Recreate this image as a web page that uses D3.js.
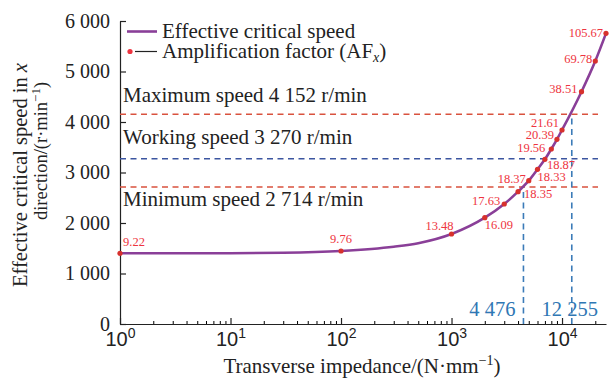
<!DOCTYPE html>
<html>
<head>
<meta charset="utf-8">
<script src="https://cdn.jsdelivr.net/npm/d3@7"></script>
<style>
  body { margin: 0; background: #fff; }
  svg { font-family: "Liberation Serif", "DejaVu Serif", serif; }
</style>
</head>
<body>
<div id="chart"></div>
<script>
const width = 615, height = 381;

// transverse impedance (N/mm) at each marked point
const impedance = [1, 100, 1000, 2000, 3000, 4000, 5000, 6000, 7000, 8000, 9000, 10000, 15000, 20000, 25000];
// effective critical speed (r/min) at those points
const speed = [1400, 1446, 1782, 2105, 2376, 2620, 2838, 3063, 3261, 3465, 3657, 3842, 4600, 5208, 5756];
// amplification factor labels
const afLabels = ["9.22", "9.76", "13.48", "16.09", "17.63", "18.35", "18.37", "18.33", "18.87", "19.56", "20.39", "21.61", "38.51", "69.78", "105.67"];
// extra curve points read between the markers
const curveX = [10, 30, 300, 500];
const curveY = [1402, 1410, 1530, 1600];

const limitNames = ["Maximum speed 4 152 r/min", "Working speed 3 270 r/min", "Minimum speed 2 714 r/min"];
const limitSpeeds = [4152, 3270, 2714];
const crossImpedance = [4476, 12255];
const crossSpeed = [2714, 4152];
const crossLabels = ["4 476", "12 255"];

const yTicks = [0, 1000, 2000, 3000, 4000, 5000, 6000];
const xMajor = [1, 10, 100, 1000, 10000];

const x = d3.scaleLog().domain([1, 25000]).range([120, 606]);
const y = d3.scaleLinear().domain([0, 6000]).range([324, 21]);

const svg = d3.select("#chart").append("svg")
    .attr("width", width)
    .attr("height", height);

// minor x ticks
let xMinor = [];
for (let d = 1; d <= 10000; d *= 10) {
    for (let k = 2; k <= 9; k++) {
        if (d * k < 25000) xMinor.push(d * k);
    }
}

svg.append("g")
    .attr("transform", `translate(0, ${y(0)})`)
    .call(d3.axisBottom(x).tickValues(xMinor).tickSizeInner(-3).tickSizeOuter(0).tickFormat(""))
    .call(g => g.select(".domain").remove());

let xAxis = svg.append("g")
    .attr("transform", `translate(0, ${y(0)})`)
    .call(d3.axisBottom(x).tickValues(xMajor).tickSizeInner(-6).tickSizeOuter(0).tickFormat(""));
xAxis.selectAll("path, line").attr("stroke", "#222").attr("stroke-width", 1.2);
xAxis.selectAll(".tick").each(function(d) {
    let t = d3.select(this).append("text")
        .attr("y", 22)
        .attr("fill", "#222")
        .attr("text-anchor", "middle")
        .style("font-size", "20px");
    t.append("tspan").text("10");
    t.append("tspan").attr("dy", -8).style("font-size", "14px").text(Math.round(Math.log10(d)));
});

let yAxis = svg.append("g")
    .attr("transform", `translate(${x(1)}, 0)`)
    .call(d3.axisLeft(y).tickValues(yTicks).tickSizeInner(-6).tickSizeOuter(0).tickPadding(10)
        .tickFormat(d => d3.format(",")(d).replace(",", " ")));
yAxis.selectAll("path, line").attr("stroke", "#222").attr("stroke-width", 1.2);
yAxis.selectAll("text").attr("fill", "#222").style("font-size", "20px").style("font-family", "Liberation Serif");

// speed limit lines
const limitColors = ["#d9523e", "#3b55a0", "#d9523e"];
svg.append("g").selectAll("line")
    .data(limitSpeeds)
    .enter().append("line")
    .attr("x1", x(1))
    .attr("x2", 598)
    .attr("y1", d => y(d))
    .attr("y2", d => y(d))
    .attr("stroke", (d, i) => limitColors[i])
    .attr("stroke-width", 1.5)
    .attr("stroke-dasharray", "6,4.5");

const limitDy = [-12, -15, 19];
svg.append("g").selectAll("text")
    .data(limitNames)
    .enter().append("text")
    .attr("x", 123)
    .attr("y", (d, i) => y(limitSpeeds[i]) + limitDy[i])
    .attr("fill", "#222")
    .style("font-size", "21px")
    .text(d => d);

// crossing lines
svg.append("g").selectAll("line")
    .data(crossImpedance)
    .enter().append("line")
    .attr("x1", d => x(d))
    .attr("x2", d => x(d))
    .attr("y1", y(0))
    .attr("y2", (d, i) => y(crossSpeed[i]))
    .attr("stroke", "#3b7bb8")
    .attr("stroke-width", 1.6)
    .attr("stroke-dasharray", "6,4.5");

svg.append("g").selectAll("text")
    .data(crossLabels)
    .enter().append("text")
    .attr("x", (d, i) => i === 0 ? x(crossImpedance[i]) - 8 : x(crossImpedance[i]) - 2)
    .attr("y", 316)
    .attr("text-anchor", (d, i) => i === 0 ? "end" : "middle")
    .attr("fill", "#2f77b4")
    .style("font-size", "20.5px")
    .text(d => d);

// curve
let curvePts = impedance.map((d, i) => [d, speed[i]])
    .concat(curveX.map((d, i) => [d, curveY[i]]))
    .sort((a, b) => a[0] - b[0]);

let line = d3.line()
    .x(d => x(d[0]))
    .y(d => y(d[1]))
    .curve(d3.curveMonotoneX);

svg.append("path")
    .datum(curvePts)
    .attr("fill", "none")
    .attr("stroke", "#8a3f98")
    .attr("stroke-width", 2.6)
    .attr("d", line);

svg.append("g").selectAll("circle")
    .data(impedance)
    .enter().append("circle")
    .attr("cx", d => x(d))
    .attr("cy", (d, i) => y(speed[i]))
    .attr("r", 2.6)
    .attr("fill", "#d7312d");

// label offsets [dx, dy, anchor]
const labelPos = [
    [3, -7, "start"], [0, -8, "middle"], [2, -4, "end"], [0, 11, "start"],
    [-4, 1, "end"], [6, 6, "start"], [-3, 2, "end"], [0, 12, "start"],
    [2, 10, "start"], [-6, 3, "end"], [-3, 0, "end"], [-3, -3, "end"],
    [-4, 1, "end"], [-3, 2, "end"], [-3, 4, "end"]
];
svg.append("g").selectAll("text")
    .data(afLabels)
    .enter().append("text")
    .attr("x", (d, i) => x(impedance[i]) + labelPos[i][0])
    .attr("y", (d, i) => y(speed[i]) + labelPos[i][1])
    .attr("text-anchor", (d, i) => labelPos[i][2])
    .attr("fill", "#ee3440")
    .style("font-size", "12.5px")
    .text(d => d);

// legend
svg.append("line")
    .attr("x1", 127).attr("x2", 157)
    .attr("y1", 31.5).attr("y2", 31.5)
    .attr("stroke", "#8a3f98").attr("stroke-width", 2.6);
svg.append("circle")
    .attr("cx", 130).attr("cy", 51.5).attr("r", 2.6).attr("fill", "#ee3440");
svg.append("line")
    .attr("x1", 135).attr("x2", 157)
    .attr("y1", 51.5).attr("y2", 51.5)
    .attr("stroke", "#222").attr("stroke-width", 1.2);
svg.append("text")
    .attr("x", 162).attr("y", 38)
    .attr("fill", "#222").style("font-size", "21px")
    .text("Effective critical speed");
let leg2 = svg.append("text")
    .attr("x", 162).attr("y", 58)
    .attr("fill", "#222").style("font-size", "21px");
leg2.append("tspan").text("Amplification factor (AF");
leg2.append("tspan").attr("dy", 4).style("font-size", "14px").style("font-style", "italic").text("x");
leg2.append("tspan").attr("dy", -4).text(")");

// axis titles
let xt = svg.append("text")
    .attr("x", 362).attr("y", 373)
    .attr("text-anchor", "middle")
    .attr("fill", "#222").style("font-size", "21px");
xt.append("tspan").text("Transverse impedance/(N·mm");
xt.append("tspan").attr("dy", -8).style("font-size", "14px").text("−1");
xt.append("tspan").attr("dy", 8).text(")");

let yt1 = svg.append("text")
    .attr("transform", "translate(27, 175) rotate(-90)")
    .attr("text-anchor", "middle")
    .attr("fill", "#222").style("font-size", "20.5px");
yt1.append("tspan").text("Effective critical speed in ");
yt1.append("tspan").style("font-style", "italic").text("x");

let yt2 = svg.append("text")
    .attr("transform", "translate(47, 151) rotate(-90)")
    .attr("text-anchor", "middle")
    .attr("fill", "#222").style("font-size", "18.5px");
yt2.append("tspan").text("direction/(r·min");
yt2.append("tspan").attr("dy", -7).style("font-size", "13px").text("−1");
yt2.append("tspan").attr("dy", 7).text(")");
</script>
</body>
</html>
